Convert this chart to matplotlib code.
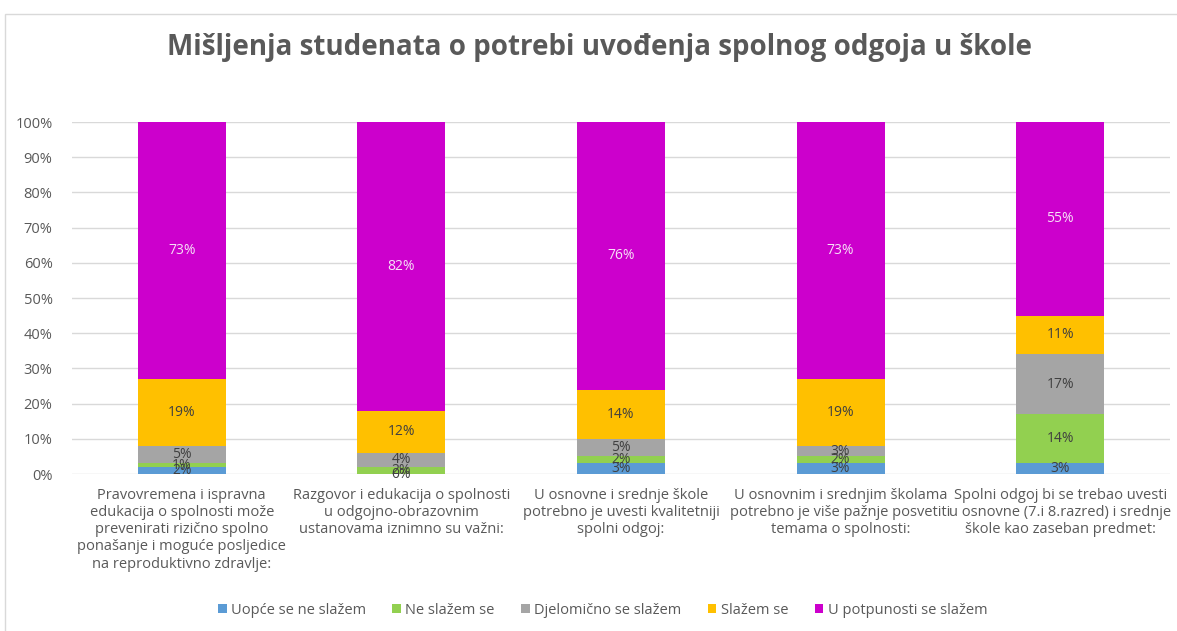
import numpy as np
import matplotlib.pyplot as plt
from matplotlib.patches import Rectangle

plt.rcParams['font.family'] = ['Open Sans', 'DejaVu Sans']

categories = [
    'Pravovremena i ispravna\nedukacija o spolnosti može\nprevenirati rizično spolno\nponašanje i moguće posljedice\nna reproduktivno zdravlje:',
    'Razgovor i edukacija o spolnosti\nu odgojno-obrazovnim\nustanovama iznimno su važni:',
    'U osnovne i srednje škole\npotrebno je uvesti kvalitetniji\nspolni odgoj:',
    'U osnovnim i srednjim školama\npotrebno je više pažnje posvetiti\ntemama o spolnosti:',
    'Spolni odgoj bi se trebao uvesti\nu osnovne (7.i 8.razred) i srednje\nškole kao zaseban predmet:',
]
series_names = ['Uopće se ne slažem', 'Ne slažem se', 'Djelomično se slažem',
                'Slažem se', 'U potpunosti se slažem']
uopce = [2, 0, 3, 3, 3]
ne_slazem = [1, 2, 2, 2, 14]
djelomicno = [5, 4, 5, 3, 17]
slazem = [19, 12, 14, 19, 11]
potpuno = [73, 82, 76, 73, 55]
colors = ['#5B9BD5', '#92D050', '#A5A5A5', '#FFC000', '#CC00CC']
label_colors = ['#404040', '#404040', '#404040', '#404040', '#F7E0F7']

series = [uopce, ne_slazem, djelomicno, slazem, potpuno]
txt = '#595959'

fig = plt.figure(figsize=(11.77, 6.31), dpi=100)
fig.patches.append(Rectangle((5 / 1177, -0.01), 1.1, 1 - 14 / 631 + 0.01,
                             transform=fig.transFigure, fill=False,
                             edgecolor='#D9D9D9', lw=1))
ax = fig.add_axes([72 / 1177, 1 - 474 / 631, 1098 / 1177, 352 / 631])

x = np.arange(len(categories))
bottom = np.zeros(len(categories))
for name, vals, c, lc in zip(series_names, series, colors, label_colors):
    vals = np.array(vals, dtype=float)
    ax.bar(x, vals, 0.4, bottom=bottom, color=c, label=name, zorder=2)
    for xi, b, v in zip(x, bottom, vals):
        ax.text(xi, b + v / 2, f'{int(v)}%', ha='center', va='center',
                fontsize=10, color=lc, zorder=3)
    bottom += vals

ax.set_xlim(-0.5, len(categories) - 0.5)
ax.set_ylim(0, 100)
ax.set_yticks(np.arange(0, 101, 10))
ax.set_yticklabels([f'{t}%' for t in range(0, 101, 10)])
ax.set_xticks(x)
ax.set_xticklabels(categories, fontsize=10.5, color=txt, linespacing=1.2)
ax.tick_params(axis='y', colors=txt, labelsize=10.5, length=0, pad=14)
ax.tick_params(axis='x', length=0, pad=10)
ax.grid(axis='y', color='#D9D9D9', lw=1, zorder=0)
for s in ax.spines.values():
    s.set_visible(False)

fig.text(0.509, 1 - 48 / 631, 'Mišljenja studenata o potrebi uvođenja spolnog odgoja u škole',
         ha='center', va='center', fontsize=20, fontweight='bold', color=txt)

fig.legend(loc='center', bbox_to_anchor=(0.512, 1 - 610 / 631), ncol=5, frameon=False,
           fontsize=10.5, labelcolor=txt, handlelength=0.6, handleheight=0.6,
           handletextpad=0.3, columnspacing=1.8)

fig.savefig('out.png', dpi=100)
